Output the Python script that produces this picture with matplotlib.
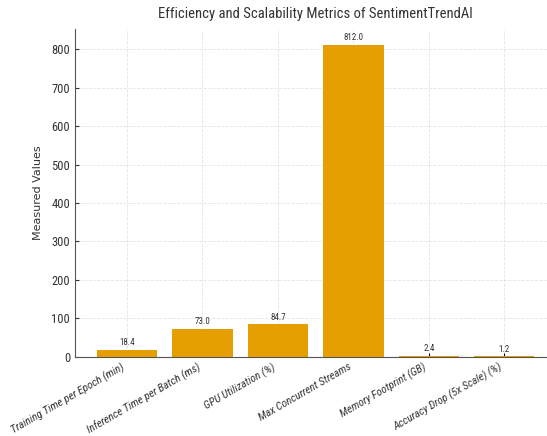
import matplotlib
matplotlib.use('Agg')
import matplotlib.pyplot as plt

metrics = [
    "Training Time per Epoch (min)",
    "Inference Time per Batch (ms)",
    "GPU Utilization (%)",
    "Max Concurrent Streams",
    "Memory Footprint (GB)",
    "Accuracy Drop (5x Scale) (%)",
]
values = [18.4, 73.0, 84.7, 812.0, 2.4, 1.2]

narrow = ['Roboto Condensed', 'DejaVu Sans']

fig = plt.figure(figsize=(5.47, 4.36), dpi=100)
ax = fig.add_axes([0.137, 0.182, 0.88, 0.751])

bars = ax.bar(range(len(metrics)), values, width=0.8, color='#E69F00', zorder=2)
for b, v in zip(bars, values):
    ax.text(b.get_x() + b.get_width() / 2, v + 6, f"{v:.1f}",
            ha='center', va='bottom', fontsize=6.5, color='#333333', family=narrow)

ax.set_xticks(range(len(metrics)))
ax.set_xticklabels(metrics, rotation=30, ha='right',
                   fontsize=8, family=narrow, style='italic', color='#333333')
ax.set_yticks(range(0, 900, 100))
ax.tick_params(axis='y', labelsize=9, colors='#333333', direction='in', length=3)
ax.tick_params(axis='x', direction='in', length=3)
for lab in ax.get_yticklabels():
    lab.set_family(narrow)

ax.set_ylabel("Measured Values", fontsize=8, color='#333333', labelpad=6)
ax.set_title("Efficiency and Scalability Metrics of SentimentTrendAI",
             fontsize=10.5, family=narrow, color='#333333', pad=8)

ax.grid(True, linestyle='--', color='#dddddd', alpha=0.8, linewidth=0.6, zorder=0)
ax.spines['top'].set_visible(False)
ax.spines['right'].set_visible(False)
for s in ['left', 'bottom']:
    ax.spines[s].set_color('#555555')

fig.savefig('out.png', dpi=100)
